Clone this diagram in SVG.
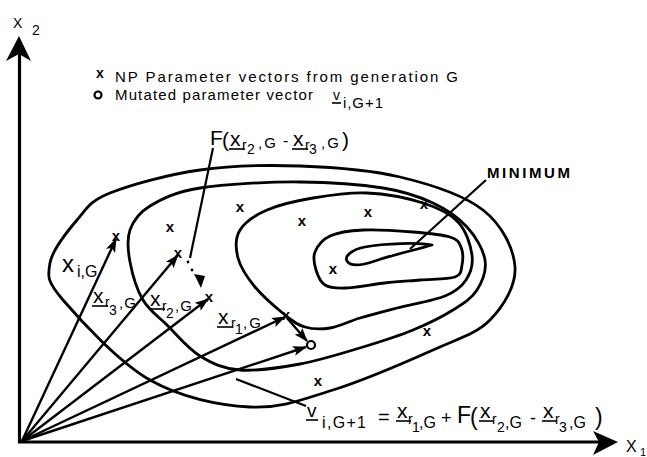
<svg xmlns="http://www.w3.org/2000/svg" width="647" height="457" viewBox="0 0 647 457">
<style>
text{font-family:"Liberation Sans",Arial,sans-serif;fill:#000}
.c{fill:none;stroke:#000;stroke-width:2.8;stroke-linejoin:round;stroke-linecap:round}
.v{fill:none;stroke:#000;stroke-width:2.4}
.ln{fill:none;stroke:#000;stroke-width:2.2}
.ul{stroke:#000;stroke-width:1.6}
.mk{font-weight:bold;font-size:15px;text-anchor:middle}
.m{font-size:21px}
.s{font-size:14px}
.g{font-size:15px}
.leg{font-size:15px}
</style>
<defs>
<marker id="ah" markerUnits="userSpaceOnUse" markerWidth="14" markerHeight="10" viewBox="0 0 14 10" refX="13" refY="5" orient="auto">
<path d="M0,0 L14,5 L0,10 L3,5 z" fill="#000"/>
</marker>
</defs>

<g id="axes">
<line x1="19.5" y1="443" x2="19.5" y2="52" stroke="#000" stroke-width="3.2"/>
<path d="M19,36 L6,61 L19,54 L31,61 Z" fill="#000"/>
<line x1="18" y1="442" x2="600" y2="442" stroke="#000" stroke-width="3.2"/>
<path d="M618,442 L593,431 L599,442 L593,455 Z" fill="#000"/>
<text x="13" y="28" font-size="14">X</text><text x="32" y="35" font-size="14">2</text>
<text x="626" y="452" font-size="16">X</text><text x="640" y="456" font-size="11">1</text>
</g>

<g id="contours">
<path class="c" d="M110,193 C130.5,184.7 168.3,174.5 200,170 C231.7,165.5 266.7,164.8 300,166 C333.3,167.2 369.5,169.7 400,177 C430.5,184.3 463.8,195 483,210 C502.2,225 513.8,248.7 515,267 C516.2,285.3 503.7,306.2 490,320 C476.3,333.8 459.2,338.3 433,350 C406.8,361.7 363.5,380.5 333,390 C302.5,399.5 280.5,408.7 250,407 C219.5,405.3 181.2,397.8 150,380 C118.8,362.2 79.7,319.5 63,300 C46.3,280.5 47.7,276.3 50,263 C52.3,249.7 67,231.7 77,220 C87,208.3 89.5,201.3 110,193 Z"/>
<path class="c" d="M150,206 C161.7,199 175,192 200,188 C225,184 269.5,181.7 300,182 C330.5,182.3 360.8,184.5 383,188 C405.2,191.5 419,196.5 433,203 C447,209.5 458.3,217.5 467,227 C475.7,236.5 483.3,249.5 485,260 C486.7,270.5 482.3,281.7 477,290 C471.7,298.3 463.7,303.3 453,310 C442.3,316.7 428,323.8 413,330 C398,336.2 381.8,341.3 363,347 C344.2,352.7 320.5,360.2 300,364 C279.5,367.8 256.7,371.3 240,370 C223.3,368.7 212.2,363.5 200,356 C187.8,348.5 176.5,334.3 167,325 C157.5,315.7 149.2,310.5 143,300 C136.8,289.5 132.2,273.7 130,262 C127.8,250.3 126.7,239.3 130,230 C133.3,220.7 138.3,213 150,206 Z"/>
<path class="c" d="M240,230 C244.8,222 254.8,215.3 267,210 C279.2,204.7 296.3,200.8 313,198 C329.7,195.2 348.7,192.2 367,193 C385.3,193.8 407.8,198.2 423,203 C438.2,207.8 449.8,213.3 458,222 C466.2,230.7 470.7,245.3 472,255 C473.3,264.7 470.5,273.2 466,280 C461.5,286.8 456.5,291.3 445,296 C433.5,300.7 411.2,304.3 397,308 C382.8,311.7 371.2,314.7 360,318 C348.8,321.3 339.2,326.5 330,328 C320.8,329.5 312.5,329.2 305,327 C297.5,324.8 293.3,321.7 285,315 C276.7,308.3 262.8,296.5 255,287 C247.2,277.5 240.5,267.5 238,258 C235.5,248.5 235.2,238 240,230 Z"/>
<path class="c" d="M315,252 C317.3,246.3 322,239.7 330,236 C338,232.3 349.2,230.7 363,230 C376.8,229.3 398.5,230.8 413,232 C427.5,233.2 442,234.5 450,237 C458,239.5 459,242.3 461,247 C463,251.7 463,260 462,265 C461,270 462,274.5 455,277 C448,279.5 431.7,279 420,280 C408.3,281 397.5,281.7 385,283 C372.5,284.3 355,287.7 345,288 C335,288.3 329.8,288 325,285 C320.2,282 317.7,275.5 316,270 C314.3,264.5 312.7,257.7 315,252 Z"/>
<path class="c" d="M432,245 C420,242.5 385,243 365,247 C352,249.5 344,256 347,261 C350,266 360,266 375,261 C392,255 415,250 432,245 Z"/>
</g>

<g id="points">
<text class="mk" x="240" y="212">x</text>
<text class="mk" x="170" y="232">x</text>
<text class="mk" x="302" y="226">x</text>
<text class="mk" x="368" y="217">x</text>
<text class="mk" x="333" y="274">x</text>
<text class="mk" x="427" y="336">x</text>
<text class="mk" x="318" y="386">x</text>
<text class="mk" x="424" y="209" font-size="11px">x</text>
<text class="mk" x="116" y="241">x</text>
<text class="mk" x="178" y="258">x</text>
<text class="mk" x="209" y="302">x</text>
<text class="mk" x="286" y="320">x</text>
<circle id="mutated" cx="311" cy="345" r="4" fill="#fff" stroke="#000" stroke-width="2.2"/>
</g>

<g id="connectors">
<line class="v" x1="22" y1="441" x2="116" y2="239" marker-end="url(#ah)"/>
<line class="v" x1="22" y1="441" x2="178" y2="255" marker-end="url(#ah)"/>
<line class="v" x1="22" y1="441" x2="208" y2="299" marker-end="url(#ah)"/>
<line class="v" x1="22" y1="441" x2="285" y2="317" marker-end="url(#ah)"/>
<line class="v" x1="22" y1="441" x2="306" y2="347" marker-end="url(#ah)"/>
<line class="v" x1="287" y1="318" x2="307" y2="341" marker-end="url(#ah)"/>
<line class="ln" x1="213" y1="148" x2="190" y2="258"/>
<circle cx="188" cy="262" r="1.4" fill="#000"/>
<circle cx="192" cy="270" r="1.4" fill="#000"/>
<path d="M194,274 L205,276 L201,288 Z" fill="#000"/>
<line class="ln" x1="486" y1="180" x2="410" y2="249"/>
<line class="ln" x1="236" y1="379" x2="306" y2="406"/>
</g>

<g id="legend">
<text x="100" y="78" font-size="14" font-weight="bold" text-anchor="middle">x</text>
<text class="leg" x="115" y="82" textLength="343" lengthAdjust="spacing">NP Parameter vectors from generation G</text>
<circle cx="98" cy="95" r="3.5" fill="none" stroke="#000" stroke-width="2.2"/>
<text class="leg" x="115" y="100" textLength="198" lengthAdjust="spacing">Mutated parameter vector</text>
<text x="333" y="100" font-size="14">v</text>
<line class="ul" x1="332" y1="103" x2="341" y2="103"/>
<text x="343" y="108" font-size="15" textLength="40" lengthAdjust="spacing">i,G+1</text>
</g>

<g id="label-minimum">
<text x="487" y="178" font-size="15" font-weight="bold" textLength="83" lengthAdjust="spacing">MINIMUM</text>
</g>

<g id="label-F">
<text class="m" x="210" y="145">F</text>
<text class="m" x="222" y="147">(</text>
<text class="m" x="230" y="146">x</text>
<line class="ul" x1="229" y1="149" x2="245" y2="149"/>
<text class="s" x="242" y="150">r</text><text class="s" x="247" y="154">2</text>
<text class="g" x="258" y="148" letter-spacing="2">,G</text>
<text x="283" y="146" font-size="16">-</text>
<text class="m" x="293" y="146">x</text>
<line class="ul" x1="292" y1="149" x2="308" y2="149"/>
<text class="s" x="305" y="150">r</text><text class="s" x="309" y="154">3</text>
<text class="g" x="321" y="148" letter-spacing="2">,G</text>
<text class="m" x="342" y="147">)</text>
</g>

<g id="label-xi">
<text x="62" y="272" font-size="24">x</text>
<text x="77" y="277" font-size="16">i,G</text>
</g>

<g id="label-xr3">
<text class="m" x="93" y="303">x</text>
<line class="ul" x1="92" y1="306" x2="108" y2="306"/>
<text class="s" x="105" y="307">r</text><text class="s" x="109" y="315">3</text>
<text class="g" x="119" y="308" letter-spacing="1">,G</text>
</g>

<g id="label-xr2">
<text class="m" x="150" y="306">x</text>
<line class="ul" x1="149" y1="309" x2="165" y2="309"/>
<text class="s" x="162" y="311">r</text><text class="s" x="166" y="318">2</text>
<text class="g" x="175" y="311" letter-spacing="1">,G</text>
</g>

<g id="label-xr1">
<text class="m" x="218" y="324">x</text>
<line class="ul" x1="217" y1="327" x2="233" y2="327"/>
<text class="s" x="231" y="328">r</text><text class="s" x="235" y="334">1</text>
<text class="g" x="243" y="328" letter-spacing="2">,G</text>
</g>

<g id="label-equation">
<text x="307" y="417" font-size="19">v</text>
<line class="ul" x1="306" y1="420" x2="318" y2="420"/>
<text x="322" y="428" font-size="16" textLength="44" lengthAdjust="spacing">i,G+1</text>
<text x="378" y="424" font-size="20">=</text>
<text class="m" x="397" y="418">x</text>
<line class="ul" x1="396" y1="421" x2="411" y2="421"/>
<text class="s" x="408" y="424">r</text><text class="s" x="412" y="432">1</text>
<text x="419" y="428" font-size="16">,G</text>
<text x="441" y="424" font-size="18">+</text>
<text x="457" y="423" font-size="23">F</text>
<text x="470" y="425" font-size="23">(</text>
<text class="m" x="480" y="418">x</text>
<line class="ul" x1="479" y1="421" x2="494" y2="421"/>
<text class="s" x="492" y="424">r</text><text class="s" x="497" y="432">2</text>
<text x="505" y="428" font-size="16">,G</text>
<text x="530" y="424" font-size="18">-</text>
<text class="m" x="543" y="418">x</text>
<line class="ul" x1="542" y1="421" x2="557" y2="421"/>
<text class="s" x="555" y="424">r</text><text class="s" x="559" y="432">3</text>
<text x="569" y="428" font-size="16">,G</text>
<text x="595" y="425" font-size="23">)</text>
</g>
</svg>
